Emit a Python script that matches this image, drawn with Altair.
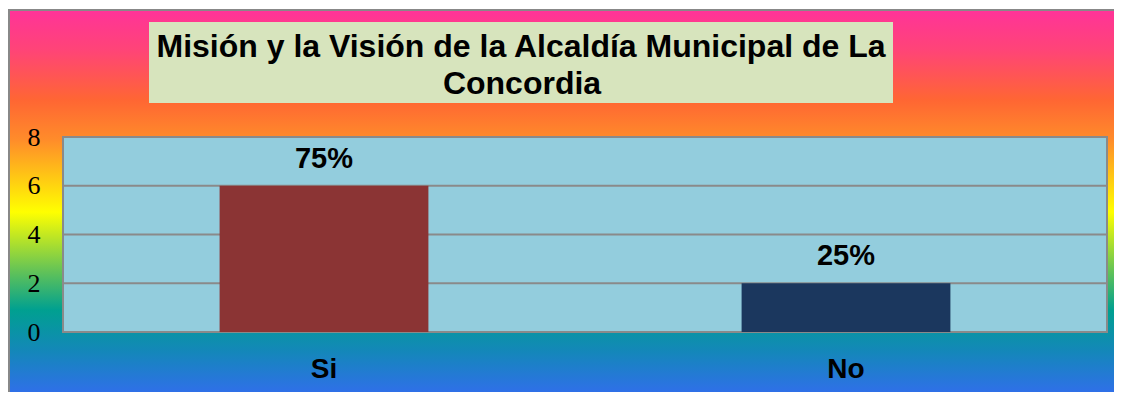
import altair as alt
import pandas as pd

categories = ["Si", "No"]
values = [6, 2]
pct_labels = ["75%", "25%"]
bar_colors = ["#8B3434", "#1B375E"]
y_ticks = [0, 2, 4, 6, 8]
title_lines = ["Misión y la Visión de la Alcaldía Municipal de La", "Concordia"]

W, H = 1044, 195

bars_df = pd.DataFrame({"cat": categories, "val": values, "lbl": pct_labels})
grid_df = pd.DataFrame({"v": y_ticks})
one = pd.DataFrame({"k": [0]})

xscale = alt.Scale(domain=categories, paddingInner=0.6, paddingOuter=0.3)
yscale = alt.Scale(domain=[0, 8], nice=False)

grad = alt.Gradient(
    gradient="linear",
    x1=0, x2=0, y1=0, y2=1,
    stops=[
        alt.GradientStop(offset=0.0, color="#FF3399"),
        alt.GradientStop(offset=0.105, color="#FF4477"),
        alt.GradientStop(offset=0.236, color="#FF6633"),
        alt.GradientStop(offset=0.34, color="#FF8C2A"),
        alt.GradientStop(offset=0.529, color="#FFFF00"),
        alt.GradientStop(offset=0.68, color="#66C455"),
        alt.GradientStop(offset=0.785, color="#00A090"),
        alt.GradientStop(offset=0.89, color="#1388B8"),
        alt.GradientStop(offset=1.0, color="#2F70E8"),
    ],
)

bg = alt.Chart(one).mark_rect(fill=grad, strokeWidth=0).encode(
    x=alt.value(-54), x2=alt.value(1060), y=alt.value(-127), y2=alt.value(255)
)

frame = alt.Chart(one).mark_rect(fillOpacity=0, stroke="#888888", strokeWidth=2).encode(
    x=alt.value(-54), x2=alt.value(3000), y=alt.value(-127), y2=alt.value(3000)
)

plotbg = alt.Chart(one).mark_rect(fill="#93CDDD", stroke="#8A8A8A", strokeWidth=2).encode(
    x=alt.value(0), x2=alt.value(W), y=alt.value(0), y2=alt.value(H)
)

grid = alt.Chart(grid_df).mark_rule(color="#8A8A8A", strokeWidth=2).encode(
    y=alt.Y("v:Q", scale=yscale,
            axis=alt.Axis(values=y_ticks, grid=False, domain=False, ticks=False,
                          labelFont="Liberation Serif", labelFontSize=26,
                          labelColor="#000000", labelPadding=23, title=None,
                          zindex=1)),
    x=alt.value(0), x2=alt.value(W),
)

bars = alt.Chart(bars_df).mark_bar().encode(
    x=alt.X("cat:N", scale=xscale, sort=categories,
            axis=alt.Axis(labelAngle=0, domain=False, ticks=False, grid=False,
                          labelFont="Liberation Sans", labelFontWeight="bold",
                          labelFontSize=28, labelColor="#000000",
                          labelPadding=23, title=None, zindex=1)),
    y=alt.Y("val:Q", scale=yscale),
    color=alt.Color("cat:N", scale=alt.Scale(domain=categories, range=bar_colors), legend=None),
)

texts = alt.Chart(bars_df).mark_text(
    font="Liberation Sans", fontWeight="bold", fontSize=29, color="#000000",
    baseline="alphabetic", dy=-18,
).encode(
    x=alt.X("cat:N", scale=xscale, sort=categories),
    y=alt.Y("val:Q", scale=yscale),
    text="lbl:N",
)

title_box = alt.Chart(one).mark_rect(fill="#D7E4BD").encode(
    x=alt.value(86), x2=alt.value(830), y=alt.value(-115), y2=alt.value(-34)
)

title_font = "Liberation Sans Narrow, Arial Narrow, Liberation Sans"
t1 = alt.Chart(one).mark_text(
    text=title_lines[0], font=title_font, fontWeight="bold", fontSize=32,
    color="#000000", baseline="alphabetic", align="center",
).encode(x=alt.value(458), y=alt.value(-80))
t2 = alt.Chart(one).mark_text(
    text=title_lines[1], font=title_font, fontWeight="bold", fontSize=32,
    color="#000000", baseline="alphabetic", align="center",
).encode(x=alt.value(459), y=alt.value(-43))

chart = alt.layer(bg, frame, plotbg, grid, bars, texts, title_box, t1, t2).properties(
    width=W, height=H,
    autosize=alt.AutoSizeParams(type="none"),
    padding={"left": 55, "top": 129, "right": 7, "bottom": 60},
    background="#FFFFFF",
).configure_view(stroke=None)

chart.save("out.html", embed_options={"renderer": "svg", "actions": False})
